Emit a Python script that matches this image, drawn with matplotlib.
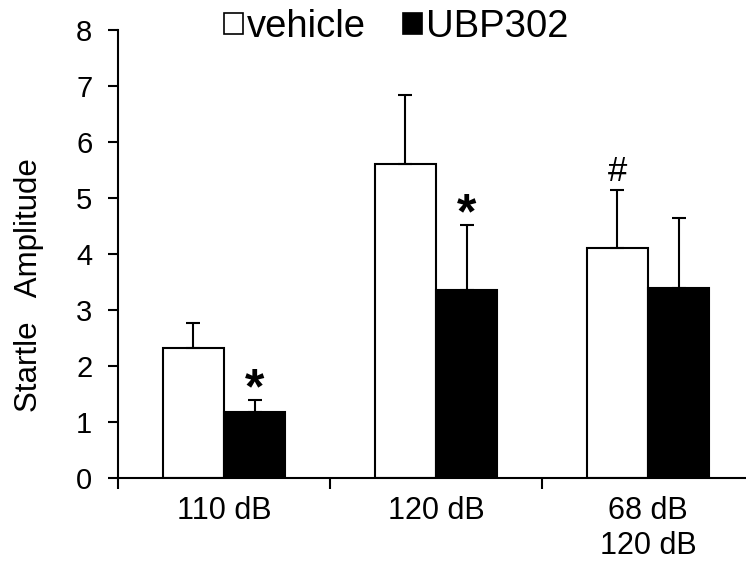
import matplotlib
matplotlib.use("Agg")
import matplotlib.pyplot as plt
from matplotlib.patches import Patch
import numpy as np

plt.rcParams['font.family'] = ['Liberation Sans', 'DejaVu Sans']

# data
conditions = ['110 dB', '120 dB', '68 dB\n120 dB']
vehicle = [2.33, 5.60, 4.10]
vehicle_err = [0.43, 1.24, 1.05]
ubp302 = [1.17, 3.36, 3.39]
ubp302_err = [0.23, 1.16, 1.25]
ubp_marks = ['*', '*', '']
vehicle_marks = ['', '', '#']

fig = plt.figure(figsize=(7.46, 5.63), dpi=100)
ax = fig.add_axes([118 / 746, 85 / 563, 636 / 746, 448 / 563])

x = np.arange(len(conditions)) + 0.5
w = 0.288
lw = 1.5
ekw = dict(elinewidth=lw, capthick=lw, ecolor='black')

ax.bar(x - w / 2, vehicle, w, color='white', edgecolor='black', linewidth=lw,
       yerr=[np.zeros(3), vehicle_err], capsize=4.7, error_kw=ekw, zorder=2)
ax.bar(x + w / 2, ubp302, w, color='black', edgecolor='black', linewidth=lw,
       yerr=[np.zeros(3), ubp302_err], capsize=4.7, error_kw=ekw, zorder=2)

# significance marks above error caps
for i in range(len(conditions)):
    if ubp_marks[i]:
        ax.annotate(ubp_marks[i], (x[i] + w / 2, ubp302[i] + ubp302_err[i]),
                    xytext=(0, -10), textcoords='offset points', ha='center',
                    va='bottom', fontsize=36, fontweight='bold')
    if vehicle_marks[i]:
        ax.annotate(vehicle_marks[i], (x[i] - w / 2, vehicle[i] + vehicle_err[i]),
                    xytext=(0, 1), textcoords='offset points', ha='center',
                    va='bottom', fontsize=25)

ax.set_xlim(0, 3)
ax.set_ylim(0, 8)
ax.set_yticks(range(0, 9))
ax.set_xticks([0, 1, 2, 3])
ax.set_xticklabels([])
ax.set_xticks(x, minor=True)
ax.set_xticklabels(conditions, minor=True, fontsize=22)
ax.tick_params(axis='x', which='major', direction='out', length=8, width=lw)
ax.tick_params(axis='x', which='minor', length=0, pad=13)
ax.tick_params(axis='y', direction='out', length=7.5, width=lw, labelsize=21, pad=11)

for s in ['top', 'right']:
    ax.spines[s].set_visible(False)
for s in ['left', 'bottom']:
    ax.spines[s].set_linewidth(lw)

ax.set_ylabel('Startle   Amplitude', fontsize=22.5)
ax.yaxis.set_label_coords(-0.116, 0.43)

handles = [Patch(facecolor='white', edgecolor='black', linewidth=1.2),
           Patch(facecolor='black', edgecolor='black', linewidth=1.2)]
fig.legend(handles, ['vehicle', 'UBP302'], loc='upper center',
           bbox_to_anchor=(0.531, 1.045), ncol=2, frameon=False, fontsize=27.5,
           handlelength=0.5, handleheight=0.5, handletextpad=0.12,
           columnspacing=0.95)

fig.savefig('out.png', dpi=100)
